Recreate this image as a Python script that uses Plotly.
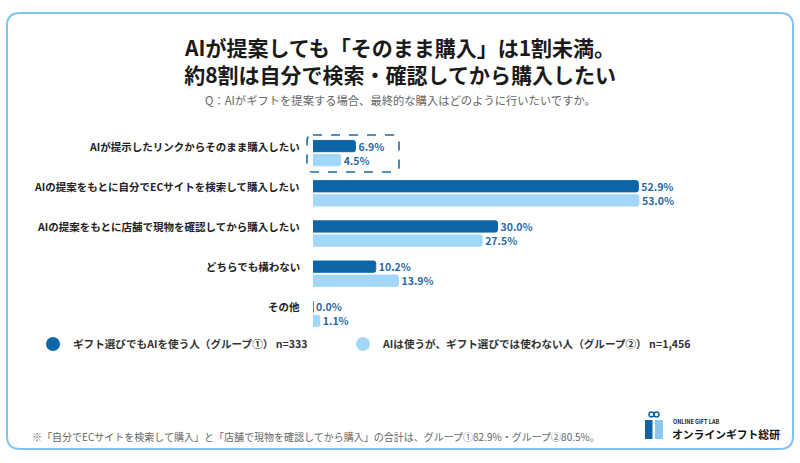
import plotly.graph_objects as go

# ---- data ----
categories = [
    "AIが提示したリンクからそのまま購入したい",
    "AIの提案をもとに自分でECサイトを検索して購入したい",
    "AIの提案をもとに店舗で現物を確認してから購入したい",
    "どちらでも構わない",
    "その他",
]
group1_name = "ギフト選びでもAIを使う人（グループ①） n=333"
group2_name = "AIは使うが、ギフト選びでは使わない人（グループ②） n=1,456"
group1_values = [6.9, 52.9, 30.0, 10.2, 0.0]
group2_values = [4.5, 53.0, 27.5, 13.9, 1.1]

title_lines = ["AIが提案しても「そのまま購入」は1割未満。", "約8割は自分で検索・確認してから購入したい"]
subtitle = "Q：AIがギフトを提案する場合、最終的な購入はどのように行いたいですか。"
footnote = "※「自分でECサイトを検索して購入」と「店舗で現物を確認してから購入」の合計は、グループ①82.9%・グループ②80.5%。"
logo_small = "ONLINE GIFT LAB"
logo_big = "オンラインギフト総研"

# ---- style ----
FONT = "Noto Sans CJK JP"
DARK = "#0d66a7"
LIGHT = "#a2d7f8"
LABEL_BLUE = "#1f6aa8"
W, H = 800, 463
L, R, T, B = 313, 743, 133, 334


def px(x):
    return (x - L) / (R - L)


def py(y):
    return (B - y) / (B - T)


def rounded_path(x0, y0, x1, y1, r):
    X = lambda v: f"{px(v):.5f}"
    Y = lambda v: f"{py(v):.5f}"
    return (
        f"M {X(x0 + r)},{Y(y0)} L {X(x1 - r)},{Y(y0)} Q {X(x1)},{Y(y0)} {X(x1)},{Y(y0 + r)} "
        f"L {X(x1)},{Y(y1 - r)} Q {X(x1)},{Y(y1)} {X(x1 - r)},{Y(y1)} "
        f"L {X(x0 + r)},{Y(y1)} Q {X(x0)},{Y(y1)} {X(x0)},{Y(y1 - r)} "
        f"L {X(x0)},{Y(y0 + r)} Q {X(x0)},{Y(y0)} {X(x0 + r)},{Y(y0)} Z"
    )


fig = go.Figure()
for vals, color, name in [(group1_values, DARK, group1_name), (group2_values, LIGHT, group2_name)]:
    fig.add_trace(go.Bar(
        y=categories, x=vals, orientation="h", name=name,
        marker=dict(color=color, cornerradius=2, line=dict(color=color, width=1)),
        texttemplate="%{x:.1f}%", textposition="outside", constraintext="none",
        textfont=dict(family=FONT, size=10.5, color=LABEL_BLUE, weight="bold"),
        cliponaxis=False, showlegend=False, hoverinfo="skip",
    ))

for color, name, lg in [(DARK, group1_name, "legend"), (LIGHT, group2_name, "legend2")]:
    fig.add_trace(go.Scatter(
        x=[None], y=[None], mode="markers", name=name, legend=lg,
        marker=dict(color=color, size=14, symbol="circle"), showlegend=True,
    ))

annotations = []
for c in categories:
    annotations.append(dict(
        x=0, y=c, xref="x", yref="y", text=f"<b>{c}</b>", showarrow=False,
        xanchor="right", yanchor="middle", xshift=-11, yshift=7,
        font=dict(family=FONT, size=10.5, color="#222222"),
    ))


def txt(x, y, text, size, color, xanchor="left"):
    return dict(x=px(x), y=py(y), xref="paper", yref="paper", text=text, showarrow=False,
                xanchor=xanchor, yanchor="middle", font=dict(family=FONT, size=size, color=color))


annotations += [
    txt(400, 60.5, "<b>" + "<br>".join(title_lines) + "</b>", 21, "#1a1a1a", "center"),
    txt(400, 100, subtitle, 11.3, "#666666", "center"),
    txt(30, 436, footnote, 10, "#666666"),
    txt(671, 422, f"<b>{logo_small}</b>", 5.5, "#222222"),
    txt(670, 434, f"<b>{logo_big}</b>", 10.8, "#111111"),
]

shapes = [
    dict(type="path", xref="paper", yref="paper", path=rounded_path(7, 13, 793, 449, 13),
         line=dict(color="#82c4ee", width=2), fillcolor="rgba(0,0,0,0)", layer="below"),
    dict(type="path", xref="paper", yref="paper", path=rounded_path(307, 135, 399, 172, 6),
         line=dict(color="#1e6aa5", width=1.6, dash="dash"), fillcolor="rgba(0,0,0,0)"),
    dict(type="rect", xref="paper", yref="paper", x0=px(645), x1=px(652.5), y0=py(439), y1=py(420),
         fillcolor="#1064a6", line=dict(width=0)),
    dict(type="rect", xref="paper", yref="paper", x0=px(655), x1=px(663), y0=py(439), y1=py(420),
         fillcolor="#8cc8ee", line=dict(width=0)),
    dict(type="circle", xref="paper", yref="paper", x0=px(649), x1=px(654), y0=py(417), y1=py(412),
         fillcolor="rgba(0,0,0,0)", line=dict(color="#1064a6", width=1.5)),
    dict(type="circle", xref="paper", yref="paper", x0=px(654), x1=px(659), y0=py(417), y1=py(412),
         fillcolor="rgba(0,0,0,0)", line=dict(color="#1064a6", width=1.5)),
]

legend_common = dict(orientation="h", xref="container", yref="container", y=1 - 344 / H,
                     xanchor="left", yanchor="middle", itemwidth=30,
                     font=dict(family=FONT, size=10.6, color="#333333", weight="bold"),
                     bgcolor="rgba(0,0,0,0)", borderwidth=0)

fig.update_layout(
    width=W, height=H,
    margin=dict(l=L, r=W - R, t=T, b=H - B, pad=0, autoexpand=False),
    paper_bgcolor="white", plot_bgcolor="white",
    barmode="group", bargap=0.3, bargroupgap=0.2,
    font=dict(family=FONT, color="#333333"),
    xaxis=dict(range=[0, (R - L) / 6.15], visible=False, fixedrange=True),
    yaxis=dict(type="category", categoryorder="array", categoryarray=categories,
               range=[len(categories) - 0.5, -0.5], showticklabels=False, showgrid=False,
               zeroline=False, showline=False, ticks="", fixedrange=True),
    legend=dict(legend_common, x=33 / W),
    legend2=dict(legend_common, x=343 / W),
    annotations=annotations,
    shapes=shapes,
    showlegend=True,
)

fig.write_html("out.html", config={"displayModeBar": False},
               post_script="document.body.style.margin='0';")
